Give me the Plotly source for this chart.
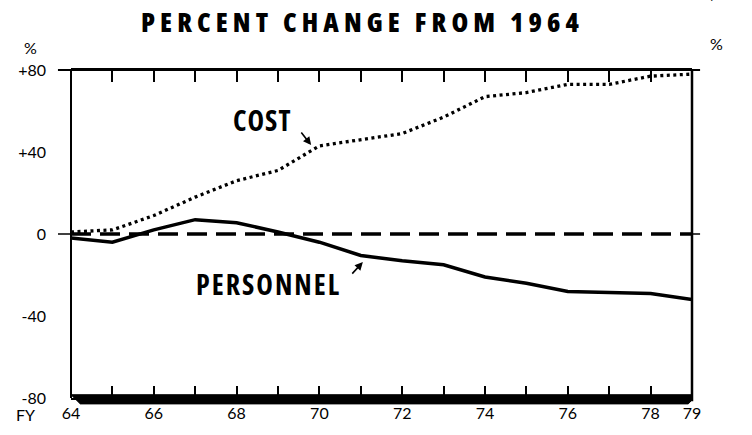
import plotly.graph_objects as go

# ---- data ----
years = [64, 65, 66, 67, 68, 69, 70, 71, 72, 73, 74, 75, 76, 77, 78, 79]
cost = [1, 2, 9, 18, 26, 31, 43, 46, 49, 57, 67, 69, 73, 73, 77, 78]
personnel = [-2, -4, 2, 7, 5.5, 1, -4, -10.5, -13, -15, -21, -24, -28, -28.5, -29, -32]

x_tick_vals = years
x_tick_text = ["64", "", "66", "", "68", "", "70", "", "72", "", "74", "", "76", "", "78", "79"]
y_tick_vals = [-80, -40, 0, 40, 80]
y_tick_text = ["-80", "-40", "0", "+40", "+80"]

title_text = "PERCENT CHANGE FROM 1964"

LABEL = "Lato, Open Sans, DejaVu Sans, sans-serif"
COND = "Open Sans, DejaVu Sans, sans-serif"


def cond(text, spacing):
    return ('<span style="font-stretch:condensed;letter-spacing:%spx">' % spacing) + text + "</span>"


fig = go.Figure()
fig.add_trace(go.Scatter(x=years, y=cost, mode="lines", name="COST",
                         line=dict(color="black", width=3.3, dash="3px,3.5px")))
fig.add_trace(go.Scatter(x=years, y=personnel, mode="lines", name="PERSONNEL",
                         line=dict(color="black", width=3.5)))

shapes = [
    dict(type="line", xref="x", yref="y", x0=64, x1=79, y0=0, y1=0,
         line=dict(color="black", width=3.5, dash="20px,9px")),
    dict(type="line", xref="paper", yref="paper", x0=-0.021, x1=1.013, y0=1, y1=1,
         line=dict(color="black", width=2)),
    dict(type="line", xref="paper", yref="paper", x0=0, x1=0, y0=0, y1=1,
         line=dict(color="black", width=2)),
    dict(type="line", xref="paper", yref="paper", x0=1, x1=1, y0=-0.01, y1=1,
         line=dict(color="black", width=2.5)),
    dict(type="line", xref="paper", yref="y", x0=-0.021, x1=0, y0=0, y1=0,
         line=dict(color="black", width=1.5)),
    dict(type="line", xref="paper", yref="y", x0=1, x1=1.013, y0=0, y1=0,
         line=dict(color="black", width=1.5)),
    dict(type="path", xref="paper", yref="paper",
         path="M 0,0.01 L 1,0.01 L 1,-0.006 L 0.994,-0.018 L 0.015,-0.018 Z",
         fillcolor="black", line=dict(color="black", width=1)),
]

annotations = [
    dict(text="%", xref="paper", yref="paper", x=-0.066, y=1.07, xanchor="center", yanchor="middle",
         showarrow=False, font=dict(family=LABEL, size=16, color="black")),
    dict(text="%", xref="paper", yref="paper", x=1.040, y=1.08, xanchor="center", yanchor="middle",
         showarrow=False, font=dict(family=LABEL, size=16, color="black")),
    dict(text="FY", xref="paper", yref="paper", x=-0.073, y=-0.05, xanchor="center", yanchor="middle",
         showarrow=False, font=dict(family=LABEL, size=16, color="black")),
    dict(text="AP/DF", xref="paper", yref="paper", x=1.075, y=1.198, xanchor="right", yanchor="bottom",
         showarrow=False, font=dict(family=LABEL, size=15, color="black")),
    dict(text=cond("COST", 1), xref="x", yref="y", x=68.61, y=55.6, xanchor="center", yanchor="middle",
         showarrow=False, font=dict(family=COND, size=28, color="black", weight="bold")),
    dict(text=cond("PERSONNEL", 2), xref="x", yref="y", x=68.76, y=-24.4, xanchor="center", yanchor="middle",
         showarrow=False, font=dict(family=COND, size=28, color="black", weight="bold")),
    dict(text="", xref="x", yref="y", x=69.8, y=43.4, ax=-11, ay=-14,
         showarrow=True, arrowhead=2, arrowsize=1, arrowwidth=1.6, arrowcolor="black"),
    dict(text="", xref="x", yref="y", x=71.05, y=-13.7, ax=-12, ay=13,
         showarrow=True, arrowhead=2, arrowsize=1, arrowwidth=1.6, arrowcolor="black"),
]

fig.update_layout(
    width=752, height=435,
    margin=dict(l=71, r=60, t=70, b=37),
    paper_bgcolor="white", plot_bgcolor="white",
    showlegend=False,
    title=dict(text=cond(title_text, 5.1),
               x=0.482, xanchor="center", xref="container",
               y=0.949, yanchor="middle", yref="container",
               font=dict(family=COND, size=27, color="black", weight=800)),
    xaxis=dict(range=[64, 79], tickmode="array", tickvals=x_tick_vals, ticktext=x_tick_text,
               ticks="inside", ticklen=12, tickwidth=1.5, tickcolor="black",
               showline=True, linewidth=2, linecolor="black", mirror="ticks",
               showgrid=False, zeroline=False, ticklabelstandoff=0,
               tickfont=dict(family=LABEL, size=16, color="black")),
    yaxis=dict(range=[-80, 80], tickmode="array", tickvals=y_tick_vals, ticktext=y_tick_text,
               ticks="", showline=False, showgrid=False, zeroline=False,
               ticklabelstandoff=24,
               tickfont=dict(family=LABEL, size=16, color="black")),
    yaxis2=dict(range=[-80, 80], tickmode="array", tickvals=y_tick_vals, ticktext=y_tick_text,
                overlaying="y", side="right", anchor="x",
                ticks="", showline=False, showgrid=False, zeroline=False,
                ticklabelstandoff=20,
                tickfont=dict(family=LABEL, size=16, color="black")),
    shapes=shapes,
    annotations=annotations,
)

fig.write_html("out.html", config={"displayModeBar": False},
               post_script="document.body.style.margin='0';")
